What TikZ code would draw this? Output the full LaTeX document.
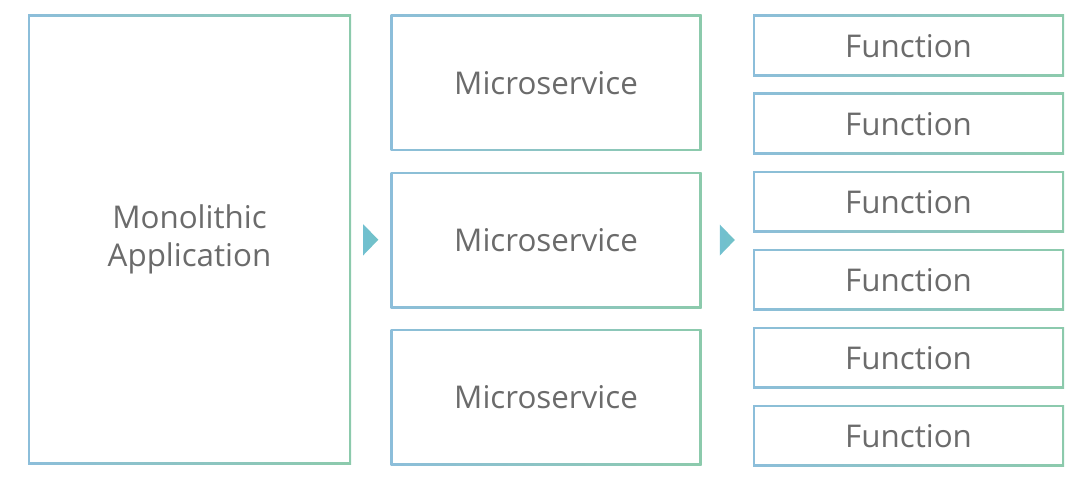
\documentclass[tikz,border=0pt]{standalone}
\usepackage{fontspec}
\setmainfont{Open Sans}
\usepackage{tikz}
\usetikzlibrary{positioning}
\usetikzlibrary{calc}
\definecolor{boxblue}{RGB}{140,190,218}
\definecolor{boxgreen}{RGB}{140,202,172}
\definecolor{tritone}{RGB}{108,192,206}
\definecolor{txtgray}{RGB}{107,107,107}

\begin{document}
\begin{tikzpicture}[x=0.75pt,y=-0.75pt]
\tikzstyle{gbox}=[left color=boxblue,right color=boxgreen,inner sep=0pt,text=txtgray,align=center,
  path picture={\fill[white] ([shift={(1.6pt,1.6pt)}]path picture bounding box.south west)
    rectangle ([shift={(-1.6pt,-1.6pt)}]path picture bounding box.north east);}]
\tikzstyle{mono}=[gbox,minimum width=242.25pt,minimum height=336.75pt,font=\fontsize{23.5}{28.5}\selectfont]
\tikzstyle{micro}=[gbox,minimum width=233.25pt,minimum height=102pt,font=\fontsize{23.5}{28}\selectfont]
\tikzstyle{func}=[gbox,minimum width=233.25pt,minimum height=46.1pt,font=\fontsize{23.5}{28}\selectfont]
\tikzstyle{tri}=[left color=tritone!85!boxblue,right color=tritone!80!boxgreen]
\useasboundingbox (0,0) rectangle (1080,481);
% monolith
\node [mono] (app) at (189.5,239.5) {Monolithic\\Application};
% microservices
\node [micro,below right=0pt and 29.25pt of app.north east] (ms1) {Microservice};
\node [micro,below=15.375pt of ms1] (ms2) {Microservice};
\node [micro,below=15.375pt of ms2] (ms3) {Microservice};
% functions
\node [func,below right=0pt and 38.25pt of ms1.north east] (fn1) {Function};
\foreach \i [count=\j from 2] in {1,...,5}
  \node [func,below=12pt of fn\i] (fn\j) {Function};
% arrows
\coordinate (a1) at ($(app.east)!0.5!(ms2.west)$);
\coordinate (a2) at ($(ms2.east)!0.5!(fn1.west |- ms2.west)$);
\shade [tri] ($(a1)+(-7.5,-15.5)$) -- ($(a1)+(7.5,0)$) -- ($(a1)+(-7.5,15.5)$) -- cycle;
\shade [tri] ($(a2)+(-7.5,-15.5)$) -- ($(a2)+(7.5,0)$) -- ($(a2)+(-7.5,15.5)$) -- cycle;
\end{tikzpicture}
\end{document}
